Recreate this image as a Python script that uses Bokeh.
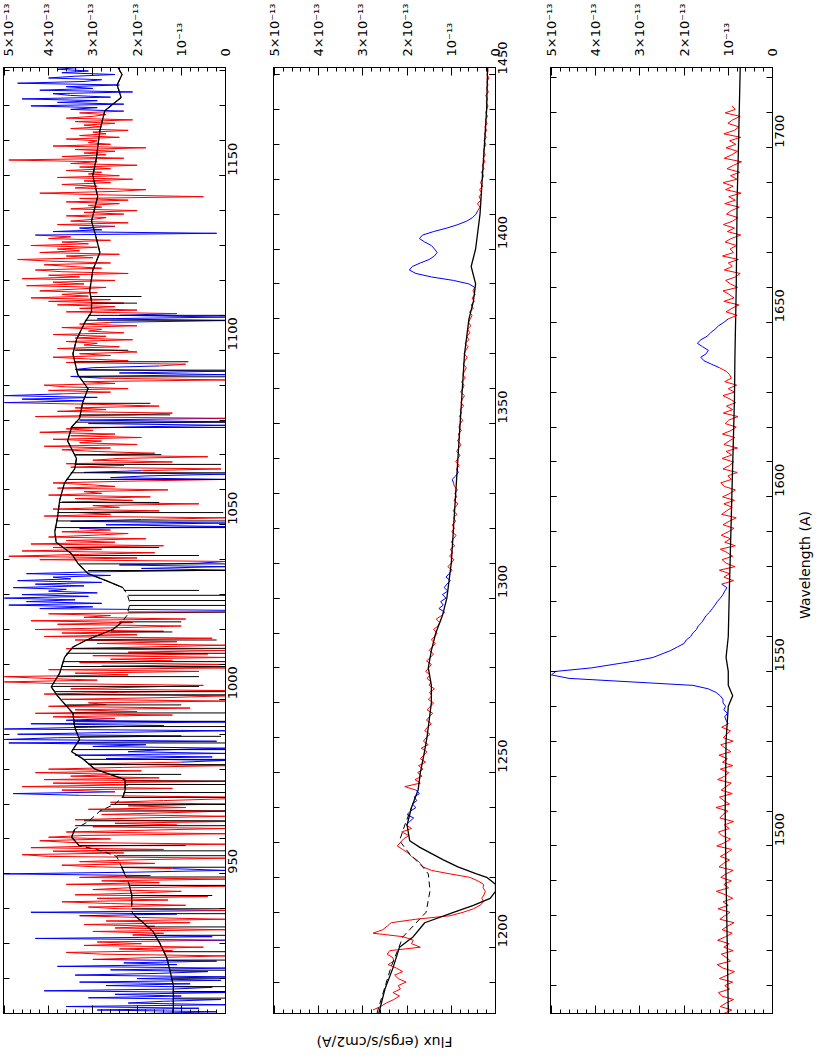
import math
import numpy as np
from bokeh.plotting import figure
from bokeh.models import (Range1d, LinearAxis, FixedTicker, SingleIntervalTicker,
                          ColumnDataSource, CustomJSTickFormatter)
from bokeh.layouts import row, column
from bokeh.embed import file_html
from bokeh.resources import INLINE
from bokeh.core.properties import value

FONT = "DejaVu Sans"

# ---------------- axis definitions ----------------
flux_ticks = [0, 1, 2, 3, 4, 5]
flux_labels = ["0", "10\u207b\u00b9\u00b3", "2\u00d710\u207b\u00b9\u00b3", "3\u00d710\u207b\u00b9\u00b3",
               "4\u00d710\u207b\u00b9\u00b3", "5\u00d710\u207b\u00b9\u00b3"]
panel_ranges = [(910, 1181), (1181, 1452), (1452, 1723)]
flux_max = 5.02   # in units of 1e-13
flux_title = "Flux (ergs/s/cm2/A)"
wl_title = "Wavelength (A)"

# ---------------- panel 1 (910-1181 A), flux in 1e-13 units, 0.5 A steps ----------------
p1_wl_start, p1_wl_step = 910, 0.5
p1_flux = [
    1.8, 0.2, 2.9, 0.6, 3.6, 0.0, 2.2, 1.4, 0.1, 3.1, 1.0, 2.5, 0.0, 4.1, 1.2, 0.3, 2.7, 0.8, 3.3, 0.1,
    2.0, 0.0, 3.4, 1.5, 0.4, 2.6, 0.0, 3.8, 1.1, 2.3, 0.2, 3.0, 1.7, 0.0, 2.8, 3.6, 1.2, 2.4, 0.5, 3.2,
    1.9, 2.9, 0.0, 4.3, 0.3, 2.1, 1.4, 3.0, 0.0, 2.5, 1.6, 3.2, 0.8, 2.7, 0.0, 1.9, 3.3, 1.1, 4.4, 0.0,
    2.4, 3.1, 0.9, 2.6, 3.7, 1.3, 2.9, 0.4, 3.4, 2.0, 1.0, 3.0, 2.2, 0.0, 3.6, 1.5, 2.8, 0.0, 3.3, 1.7,
    5.0, 2.0, 0.0, 1.2, 2.9, 3.7, 1.6, 3.3, 2.1, 0.0, 4.0, 4.6, 2.3, 3.9, 1.4, 4.4, 2.9, 0.0, 3.5, 4.2,
    2.6, 4.0, 3.2, 0.0, 3.6, 1.8, 0.0, 3.0, 1.1, 2.5, 0.0, 3.4, 2.0, 0.0, 2.8, 1.3, 0.0, 3.1, 0.9, 2.2,
    0.0, 2.6, 1.4, 0.0, 0.0, 3.3, 4.8, 2.5, 3.7, 1.2, 4.6, 2.2, 3.9, 0.0, 4.1, 1.5, 3.5, 2.4, 4.3, 1.9,
    4.0, 2.3, 0.0, 3.1, 1.0, 0.0, 2.7, 0.3, 3.4, 0.0, 2.2, 1.5, 0.0, 3.0, 1.8, 4.9, 0.2, 5.0, 3.8, 1.0,
    4.7, 2.6, 0.0, 5.0, 3.1, 1.4, 4.4, 0.0, 3.6, 2.5, 3.9, 1.2, 4.3, 2.0, 3.4, 0.8, 4.0, 2.7, 3.1, 0.0,
    3.7, 1.3, 0.0, 4.1, 2.4, 0.0, 3.5, 1.9, 0.5, 3.8, 5.0, 2.9, 4.1, 5.0, 2.2, 3.4, 0.6, 4.0, 0.0, 2.8,
    0.0, 3.3, 1.2, 2.6, 0.0, 3.0, 0.4, 2.2, 0.0, 3.6, 1.8, 0.0, 2.9, 1.1, 3.4, 0.3, 4.1, 2.0, 3.7, 1.4,
    4.3, 2.5, 1.0, 3.8, 2.1, 4.4, 0.9, 3.2, 2.6, 4.0, 0.0, 0.0, 4.2, 3.0, 4.9, 2.8, 4.5, 3.4, 5.0, 3.1,
    4.6, 2.9, 4.0, 3.6, 4.8, 3.2, 4.3, 2.8, 4.7, 3.5, 3.9, 2.6, 4.5, 3.0, 0.0, 1.9, 0.0, 2.4, 0.6, 0.0,
    4.2, 2.0, 4.9, 3.3, 1.6, 4.6, 2.8, 3.9, 1.4, 4.4, 2.5, 3.6, 1.8, 4.0, 3.0, 2.2, 3.7, 2.6, 3.3, 0.0,
    2.7, 0.0, 3.5, 1.9, 0.0, 4.1, 2.6, 3.3, 1.5, 3.9, 2.4, 3.0, 0.6, 3.7, 2.1, 3.4, 1.7, 4.0, 2.8, 3.2,
    1.3, 3.8, 2.5, 3.1, 3.9, 2.2, 0.0, 2.6, 1.8, 0.0, 3.2, 1.9, 0.1, 3.5, 2.3, 3.6, 1.2, 3.0, 2.4, 0.4,
    3.4, 1.6, 2.9, 3.7, 2.6, 4.1, 2.0, 3.3, 2.8, 3.9, 1.9, 3.5, 2.5, 4.2, 3.0, 3.6, 2.3, 0.0, 3.1, 0.0,
    3.3, 0.0, 4.3, 2.1, 1.2, 3.8, 2.7, 3.4, 1.5, 2.9, 5.0, 3.2, 4.6, 2.9, 5.0, 3.7, 2.6, 4.0, 2.2, 3.6,
    4.1, 2.5, 3.2, 0.0, 2.8, 3.5, 0.0, 2.4, 0.0, 3.4, 3.0, 1.5, 0.9, 3.6, 2.2, 3.1, 3.9, 2.6, 3.3, 2.0,
    2.5, 3.8, 2.4, 3.2, 2.9, 3.6, 2.1, 3.4, 2.7, 3.9, 2.3, 3.1, 2.8, 3.7, 2.0, 3.3, 2.6, 0.0, 2.9, 0.0,
    2.4, 1.1, 3.6, 2.0, 3.3, 2.5, 3.8, 2.3, 4.0, 2.6, 4.4, 3.1, 3.7, 2.9, 4.2, 3.4, 2.7, 4.5, 3.2, 3.9,
    2.5, 4.6, 3.3, 4.0, 2.2, 3.7, 4.3, 2.8, 3.5, 4.1, 2.6, 3.9, 4.7, 3.0, 3.6, 2.4, 4.2, 3.3, 3.8, 2.9,
    4.4, 3.1, 3.7, 2.6, 4.0, 3.5, 4.3, 0.2, 3.9, 2.8, 3.3, 2.5, 3.8, 2.2, 3.5, 3.0, 2.7, 3.6, 2.3, 3.2,
    2.0, 3.5, 2.8, 3.1, 2.4, 3.6, 2.2, 3.3, 0.5, 2.7, 4.2, 2.5, 1.8, 3.4, 2.9, 3.7, 2.6, 3.2, 2.1, 3.8,
    2.4, 3.1, 2.8, 3.6, 2.6, 3.3, 2.0, 3.5, 2.9, 4.9, 2.3, 3.7, 2.7, 3.2, 2.5, 3.4, 1.8, 3.9, 2.6, 3.1,
    2.9, 3.6, 2.4, 3.3, 2.7, 3.0, 2.2, 3.5, 2.8, 3.2, 2.5, 3.4, 2.1, 3.6, 3.0, 2.7, 3.3, 2.3, 3.5, 2.9,
    4.4, 2.3, 3.8, 2.9, 4.6, 2.6, 3.5, 3.9, 2.1, 4.2, 3.0, 3.6, 2.4, 4.7, 3.2, 2.8, 4.0, 3.4, 2.5, 3.7,
    3.1, 3.8, 3.3,
]
p1_blue = [(909, 925.5), (931, 932.5), (938, 939.5), (949.5, 951.5), (972.5, 973.5),
           (982, 994.5), (1025, 1039.5), (1049, 1051.5), (1063, 1065.5), (1078, 1080.5),
           (1085, 1087.5), (1092, 1095.5), (1108, 1110.5), (1133, 1135.5), (1168.5, 1181.5)]
p1_cont_wl = [910, 915, 918, 922, 926, 930, 933.5, 936, 938, 939.2, 941, 944, 947, 948.6, 950,
              952, 955, 957, 958, 960.5, 962.8, 965, 968, 970, 972, 974, 977, 980, 983, 985,
              988.5, 992, 996, 1001, 1003.6, 1007.5, 1012, 1015, 1017, 1020, 1022, 1024, 1027.5,
              1030, 1032, 1034, 1036, 1039, 1041.7, 1045, 1048, 1052, 1057, 1062, 1066, 1069,
              1074, 1078, 1080.5, 1085, 1089, 1093, 1099, 1103, 1108, 1111, 1114, 1117, 1123,
              1128, 1133.5, 1137, 1144, 1150, 1155, 1163, 1168.6, 1172.4, 1176, 1179, 1181]
p1_cont_f = [1.18, 1.18, 1.18, 1.25, 1.33, 1.48, 1.64, 1.86, 2.05, 2.12, 2.12, 2.12, 2.18, 2.23, 2.28,
             2.35, 2.46, 2.9, 3.3, 3.48, 3.41, 3.1, 2.84, 2.5, 2.32, 2.27, 2.27, 2.95, 3.23, 3.48,
             3.3, 3.41, 3.45, 3.8, 3.94, 3.75, 3.64, 3.45, 3.14, 2.55, 2.35, 2.23, 2.16,
             2.22, 2.32, 2.7, 3.11, 3.34, 3.48, 3.83, 3.86, 3.8, 3.75, 3.64, 3.41, 3.37,
             3.57, 3.48, 3.3, 3.23, 3.11, 3.34, 3.45, 3.37, 3.18, 3.03, 3.03, 3.07, 3.0,
             2.84, 2.95, 3.03, 2.89, 3.0, 2.92, 2.84, 2.73, 2.36, 2.45, 2.34, 2.43]
p1_troughs = [(938.3, 940.2), (947.5, 949.5), (952.5, 957.8), (962.9, 971.5), (1023.8, 1031.8)]
p1_line_wl = [914.4, 916.3, 917.7, 920.1, 922.4, 925.3, 927.7, 932.4, 934.8, 938.6, 940.0, 943.8,
              946.7, 949.1, 951.9, 955.2, 956.6, 958.1, 963.8, 965.2, 968.0, 969.9, 971.9, 973.3,
              975.6, 976.6, 978.5, 981.3, 982.8, 985.6, 987.5, 989.4, 992.2, 993.7, 996.1, 998.4,
              1001.3, 1002.2, 1003.7, 1006.5, 1009.4, 1010.8, 1013.2, 1014.6, 1017.0, 1019.3,
              1022.2, 1025.0, 1026.9, 1028.3, 1029.8, 1031.2, 1036.9, 1038.8, 1041.2, 1043.5,
              1049.2, 1051.1, 1053.5, 1056.4, 1063.0, 1064.9, 1067.3, 1070.1, 1077.9, 1079.4,
              1081.5, 1084.8, 1092.4, 1094.3, 1096.7, 1100.0, 1108.6, 1110.0, 1113.5, 1115.4]
p1_line_top = [1.18, 1.18, 1.18, 1.2, 1.25, 1.3, 1.4, 1.6, 1.8, 2.12, 2.12, 2.12,
               2.15, 2.25, 2.35, 2.46, 2.9, 3.3, 3.4, 3.2, 2.84, 2.6, 2.35, 2.3,
               2.27, 2.3, 2.6, 3.1, 3.23, 3.45, 3.35, 3.3, 3.41, 3.42, 3.45, 3.6,
               3.8, 3.85, 3.94, 3.8, 3.7, 3.68, 3.6, 3.45, 3.14, 2.6,
               2.4, 2.2, 2.17, 2.16, 2.2, 2.3, 3.11, 3.3, 3.48, 3.6,
               3.86, 3.82, 3.8, 3.75, 3.6, 3.5, 3.4, 3.4, 3.5, 3.4,
               3.3, 3.23, 3.3, 3.34, 3.4, 3.4, 3.18, 3.1, 3.03, 3.05]
p1_line_depth = [0, 0, 0, 0, 0, 0, 0, 0, 0, 0, 0, 0.3,
                 0, 0, 0, 0, 0, 0.9, 0, 0, 0, 0, 0, 0,
                 0, 0, 1.0, 0, 0, 0, 0, 0.1, 0, 0, 0, 1.0,
                 0, 0, 0.6, 0.6, 0, 0, 0, 0, 0.2, 1.2,
                 1.0, 0, 0, 0, 0, 0.6, 0, 0, 0.6, 1.5,
                 0, 0, 0.05, 1.5, 0, 0, 0.1, 1.45, 0, 0,
                 1.25, 1.7, 0, 0, 0.84, 2.2, 0, 0, 2.0, 1.9]

# ---------------- panel 2 (1181-1452 A), 1 A steps ----------------
p2_wl_start, p2_wl_step = 1182, 1.0
p2_flux = [
    2.77, 2.60, 2.47, 2.30, 2.17, 2.32, 2.15, 2.20, 2.02, 2.20,
    2.28, 2.10, 2.24, 2.43, 2.30, 2.32, 2.45, 2.39, 1.70, 1.90,
    1.86, 2.09, 2.77, 2.55, 2.45, 2.36, 1.80, 1.03, 0.73, 0.50,
    0.35, 0.27, 0.31, 0.26, 0.23, 0.28, 0.27, 0.40, 0.58, 1.03,
    1.45, 1.64, 1.70, 1.78, 1.90, 1.98, 2.10, 2.22, 2.15,
    2.08, 1.96, 2.12, 1.90, 2.02, 1.94, 1.85, 2.00, 1.92, 1.80,
    1.88, 1.78, 1.84, 1.72, 1.80, 2.05, 1.70, 1.82, 1.66, 1.76,
    1.64, 1.74, 1.58, 1.70, 1.62, 1.55, 1.68, 1.52, 1.63, 1.57,
    1.48, 1.60, 1.54, 1.45, 1.56, 1.50, 1.42, 1.55, 1.47, 1.40,
    1.52, 1.44, 1.49, 1.38, 1.50, 1.46, 1.55, 1.48, 1.58, 1.51,
    1.45, 1.56, 1.47, 1.40, 1.50, 1.43, 1.36, 1.45, 1.38, 1.32,
    1.40, 1.30, 1.26, 1.34, 1.22, 1.15, 1.28, 1.18, 1.24, 1.12,
    1.20, 1.08, 1.16, 1.10, 1.02, 1.12, 1.05, 0.98, 1.08, 1.00,
    0.94, 1.04, 0.97, 1.02, 0.92, 1.00, 0.95, 0.89, 0.99, 0.93,
    0.98, 0.90, 0.95, 0.87, 0.96, 0.91, 0.85, 0.94, 0.88, 0.92,
    0.86, 0.93, 0.95, 0.98, 0.90, 0.84, 0.88, 0.82, 0.90, 0.85,
    0.80, 0.88, 0.83, 0.78, 0.86, 0.81, 0.84, 0.77, 0.83, 0.79,
    0.74, 0.82, 0.77, 0.80, 0.72, 0.78, 0.75, 0.70, 0.79, 0.74,
    0.71, 0.77, 0.68, 0.74, 0.70, 0.66, 0.73, 0.69, 0.64, 0.71,
    0.67, 0.62, 0.69, 0.60, 0.65, 0.58, 0.63, 0.56, 0.61, 0.57,
    0.53, 0.59, 0.50, 0.55, 0.48, 0.53, 0.46, 0.51, 0.47, 0.60,
    0.95, 1.45, 1.80, 1.95, 1.88, 1.70, 1.50, 1.38, 1.32, 1.38,
    1.45, 1.60, 1.72, 1.65, 1.40, 1.10, 0.85, 0.65, 0.52, 0.44,
    0.40, 0.35, 0.41, 0.33, 0.37, 0.31, 0.36, 0.29, 0.34, 0.30,
    0.27, 0.32, 0.26, 0.30, 0.24, 0.28, 0.23, 0.27, 0.25, 0.22,
    0.26, 0.21, 0.25, 0.20, 0.24, 0.19, 0.23, 0.18, 0.22, 0.20,
    0.17, 0.21, 0.18, 0.22, 0.16, 0.20, 0.17, 0.19, 0.15, 0.19,
    0.17, 0.18,
]
p2_blue = [(1235, 1245), (1296, 1307), (1333, 1337), (1389.5, 1411)]
p2_mod_wl = [1181, 1182, 1188, 1194, 1200, 1203, 1207, 1210, 1212, 1214, 1216, 1218, 1220, 1221,
             1223, 1225, 1228.6, 1230.5, 1235, 1240, 1245, 1250, 1255, 1260, 1265, 1270, 1275,
             1280, 1285, 1290, 1295, 1300, 1305, 1310, 1320, 1330, 1340, 1350, 1360, 1370,
             1380, 1385, 1390, 1395, 1400, 1405, 1410, 1420, 1430, 1440, 1452]
p2_mod_f = [2.64, 2.62, 2.5, 2.32, 2.17, 1.86, 1.6, 0.95, 0.5, 0.12, 0.0, 0.0, 0.2, 0.43,
            0.85, 1.18, 1.71, 1.94, 2.0, 1.9, 1.75, 1.7, 1.62, 1.55, 1.5, 1.45, 1.45,
            1.52, 1.45, 1.35, 1.2, 1.1, 1.05, 1.0, 0.95, 0.9, 0.85, 0.8, 0.75, 0.7,
            0.6, 0.5, 0.45, 0.55, 0.45, 0.4, 0.35, 0.3, 0.25, 0.2, 0.18]
p2_dash_wl = [1181, 1182, 1194.4, 1203, 1210, 1216.2, 1221, 1222.9, 1226.7, 1230.5, 1235, 1240]
p2_dash_f = [2.68, 2.66, 2.36, 2.09, 1.57, 1.48, 1.52, 1.64, 1.94, 2.17, 2.05, 1.9]

# ---------------- panel 3 (1452-1723 A), 1 A steps ----------------
p3_wl_start, p3_wl_step = 1452, 1.0
p3_flux = [
    1.10, 0.92, 1.18, 1.05, 0.88, 1.15, 1.22, 0.97, 1.08, 0.90,
    1.20, 1.02, 0.86, 1.12, 1.25, 0.95, 1.04, 1.16, 0.89, 1.10,
    0.98, 1.24, 1.06, 0.91, 1.14, 1.02, 0.87, 1.19, 1.08, 0.96,
    1.23, 1.00, 1.12, 0.90, 1.06, 1.27, 0.99, 1.10, 0.93, 1.17,
    1.05, 0.89, 1.21, 1.11, 0.97, 1.18, 1.03, 0.92, 1.26, 1.07,
    0.95, 1.15, 1.22, 0.98, 1.09, 0.88, 1.19, 1.12, 1.01, 1.28,
    0.97, 1.10, 1.20, 0.91, 1.16, 1.05, 0.93, 1.24, 1.08, 0.99,
    1.18, 0.90, 1.13, 1.02, 1.21, 0.94, 1.07, 1.17, 0.89, 1.11,
    1.04, 0.95, 1.15, 1.00, 1.05, 1.08, 1.02, 1.10, 1.06, 1.12,
    1.12, 1.18, 1.28, 1.45, 1.80, 3.20, 4.60, 5.00, 4.90, 4.10,
    3.60, 3.10, 2.70, 2.50, 2.30, 2.15, 2.00, 1.95, 1.85, 1.80,
    1.72, 1.68, 1.60, 1.55, 1.50, 1.42, 1.36, 1.30, 1.25, 1.18,
    1.12, 1.08, 1.03, 1.15, 0.88, 1.10, 0.97, 1.20, 0.85, 1.05,
    1.14, 0.90, 1.02, 1.18, 0.84, 1.08, 0.95, 1.16, 1.00, 0.87,
    1.12, 0.98, 0.82, 1.15, 1.04, 0.91, 1.10, 0.86, 1.13, 0.96,
    0.84, 1.09, 1.17, 0.93, 1.01, 0.80, 1.12, 0.97, 0.88, 1.14,
    0.92, 1.05, 0.79, 1.10, 0.98, 0.85, 1.13, 0.94, 0.82, 1.07,
    0.99, 0.78, 1.11, 0.90, 1.04, 0.83, 0.96, 1.12, 0.86, 1.00,
    0.81, 1.08, 0.93, 0.97, 1.05, 1.20, 1.38, 1.55, 1.62, 1.50,
    1.45, 1.58, 1.70, 1.62, 1.48, 1.40, 1.30, 1.22, 1.10, 1.00,
    0.80, 1.05, 0.92, 0.76, 1.10, 0.87, 0.98, 1.12, 0.79, 0.95,
    1.06, 0.84, 0.73, 1.09, 0.91, 1.00, 0.77, 1.13, 0.88, 0.96,
    0.81, 1.07, 0.94, 0.72, 1.02, 0.86, 1.11, 0.90, 0.78, 1.04,
    0.93, 0.75, 1.08, 0.84, 0.99, 0.71, 1.06, 0.89, 1.12, 0.80,
    0.95, 0.74, 1.03, 0.88, 0.70, 1.09, 0.92, 0.79, 1.05, 0.83,
    0.97, 0.72, 1.10, 0.86, 0.76, 1.01, 0.90, 0.73, 1.07, 0.84,
    0.92,
]
p3_blue = [(1535, 1575), (1637, 1651)]
p3_mod_wl = [1452, 1470, 1490, 1510, 1530, 1540, 1543, 1546, 1550, 1554, 1560, 1571, 1600,
             1628, 1640, 1660, 1685, 1700, 1723]
p3_mod_f = [1.0, 1.02, 1.05, 1.07, 1.05, 1.0, 0.9, 1.0, 1.0, 1.05, 1.0, 0.98, 0.92,
            0.86, 0.85, 0.82, 0.8, 0.77, 0.73]

# ---------------- layout geometry (pixels) ----------------
TOP, FRAME_H, BOTTOM = 61, 952, 8
MAIN_H = TOP + FRAME_H + BOTTOM
FRAME_W = 222
TITLE_H = 35
panel_borders = [(3, 24), (24, 30), (25, 22)]
WL_TITLE_W = 20

# ---------------- helpers ----------------
RED, BLUE = "#ff0000", "#0000ff"


def data_source(start, step, flux, blue_ranges):
    fl = np.asarray(flux, float)
    wl = start + step * np.arange(len(fl))
    mid = 0.5 * (wl[:-1] + wl[1:])
    cols = []
    for m in mid:
        c = RED
        for a, b in blue_ranges:
            if a <= m <= b:
                c = BLUE
        cols.append(c)
    return ColumnDataSource(dict(x0=fl[:-1], y0=wl[:-1], x1=fl[1:], y1=wl[1:], c=cols))


def style_axis(ax, labels):
    ax.axis_line_color = "black"
    ax.major_tick_line_color = "black"
    ax.minor_tick_line_color = "black"
    ax.major_label_text_font = FONT
    ax.major_label_text_font_size = "13px"
    ax.major_label_text_color = "black"
    if not labels:
        ax.formatter = CustomJSTickFormatter(code="return ''")
        ax.major_label_text_font_size = "0px"
        ax.major_label_standoff = 0


def flux_axis(ax, labels):
    ax.ticker = FixedTicker(ticks=flux_ticks,
                            minor_ticks=[i * 0.2 for i in range(26)])
    ax.major_tick_in, ax.major_tick_out = 8, 0
    ax.minor_tick_in, ax.minor_tick_out = 4, 0
    ax.major_label_orientation = math.pi / 2
    ax.major_label_standoff = 11
    style_axis(ax, labels)
    if labels:
        ax.major_label_overrides = {t: s for t, s in zip(flux_ticks, flux_labels)}


def wl_axis(ax, labels):
    ax.ticker = SingleIntervalTicker(interval=50, num_minor_ticks=5)
    ax.major_tick_in, ax.major_tick_out = 6, 0
    ax.minor_tick_in, ax.minor_tick_out = 6, 0
    ax.major_label_orientation = math.pi / 2
    ax.major_label_standoff = 7
    style_axis(ax, labels)


def make_panel(idx):
    lo, hi = panel_ranges[idx]
    bl, br = panel_borders[idx]
    p = figure(width=bl + FRAME_W + br, height=MAIN_H,
               x_range=Range1d(flux_max, 0), y_range=Range1d(lo, hi),
               x_axis_location="above", y_axis_location="right",
               output_backend="svg", toolbar_location=None, tools="",
               min_border_left=bl, min_border_right=br,
               min_border_top=TOP, min_border_bottom=BOTTOM)
    p.grid.visible = False
    p.outline_line_color = "black"
    p.outline_line_width = 1
    p.background_fill_color = "white"
    p.border_fill_color = "white"
    flux_axis(p.xaxis[0], True)
    wl_axis(p.yaxis[0], True)
    bot = LinearAxis()
    flux_axis(bot, False)
    p.add_layout(bot, "below")
    left = LinearAxis()
    wl_axis(left, False)
    p.add_layout(left, "left")
    return p


def text_panel(width, height, x, y, text, angle):
    t = figure(width=width, height=height, x_range=Range1d(0, width), y_range=Range1d(0, height),
               x_axis_type=None, y_axis_type=None, output_backend="svg",
               toolbar_location=None, tools="", min_border=0)
    t.grid.visible = False
    t.outline_line_color = None
    t.background_fill_color = "white"
    t.border_fill_color = "white"
    t.text(x=[x], y=[y], text=[text], angle=angle, text_align="center", text_baseline="middle",
           text_font=value(FONT), text_font_size="14px", text_color="black")
    return t


# ---------------- panel 1 ----------------
p1 = make_panel(0)
s1 = data_source(p1_wl_start, p1_wl_step, p1_flux, p1_blue)
p1.segment("x0", "y0", "x1", "y1", source=s1, line_color="c", line_width=1)
p1.line(p1_cont_f, p1_cont_wl, line_color="black", line_width=1, line_dash="6 4")
solid_f = [f if not any(a < w < b for a, b in p1_troughs) else float("nan")
           for w, f in zip(p1_cont_wl, p1_cont_f)]
p1.line(solid_f, p1_cont_wl, line_color="black", line_width=1.3)
p1.segment(x0=p1_line_top, y0=p1_line_wl, x1=p1_line_depth, y1=p1_line_wl,
           line_color="black", line_width=1)

# ---------------- panel 2 ----------------
p2 = make_panel(1)
s2 = data_source(p2_wl_start, p2_wl_step, p2_flux, p2_blue)
p2.segment("x0", "y0", "x1", "y1", source=s2, line_color="c", line_width=1)
p2.line(p2_dash_f, p2_dash_wl, line_color="black", line_width=1, line_dash="6 4")
p2.line(p2_mod_f, p2_mod_wl, line_color="black", line_width=1.3)

# ---------------- panel 3 ----------------
p3 = make_panel(2)
s3 = data_source(p3_wl_start, p3_wl_step, p3_flux, p3_blue)
p3.segment("x0", "y0", "x1", "y1", source=s3, line_color="c", line_width=1)
p3.line(p3_mod_f, p3_mod_wl, line_color="black", line_width=1.3)

# ---------------- axis titles (rotated, outside the frames) ----------------
total_w = p1.width + p2.width + p3.width + WL_TITLE_W
p2_center = p1.width + panel_borders[1][0] + FRAME_W / 2
flux_t = text_panel(total_w, TITLE_H, p2_center, TITLE_H - 20, flux_title, math.pi)
wl_t = text_panel(WL_TITLE_W, MAIN_H, WL_TITLE_W / 2, BOTTOM + FRAME_H / 2, wl_title, math.pi / 2)

layout = column(row(p1, p2, p3, wl_t), flux_t)
open("out.html", "w").write(file_html(layout, INLINE))
